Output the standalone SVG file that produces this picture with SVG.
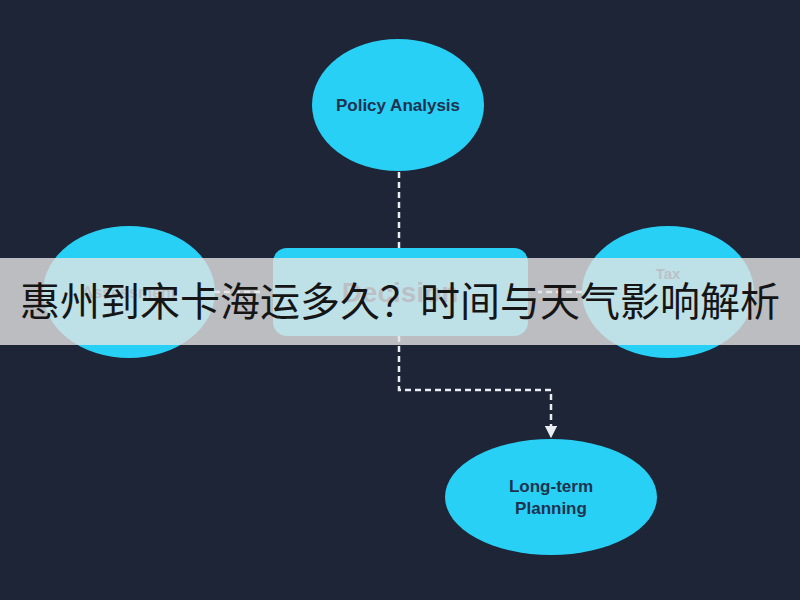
<svg xmlns="http://www.w3.org/2000/svg" width="800" height="600" viewBox="0 0 800 600">
<style>
.n{fill:#29d0f5}
.t{font-family:"Liberation Sans",Arial,sans-serif;font-weight:bold;fill:#1d3350;text-anchor:middle}
.c{stroke:#e8eef2;stroke-width:2.5;stroke-dasharray:6 4;fill:none}
</style>
<defs><marker id="a" viewBox="0 0 10 10" refX="5" refY="5" markerWidth="5" markerHeight="5" orient="auto"><path d="M0,0L10,5L0,10z" fill="#e8eef2"/></marker></defs>
<rect width="800" height="600" fill="#1d2537"/>
<g id="connectors">
<path class="c" d="M399,172V248"/>
<path class="c" d="M399,336V390H551V432" marker-end="url(#a)"/>
<path class="c" d="M214,292H262"/>
<path class="c" d="M582,292H538"/>
</g>
<g id="policy"><ellipse class="n" cx="398" cy="105" rx="86" ry="66"/><text class="t" x="398" y="111" font-size="17">Policy Analysis</text></g>
<g id="risk"><ellipse class="n" cx="129" cy="292" rx="86" ry="66"/><text class="t" x="129" y="298" font-size="16">Assessment</text></g>
<g id="decision"><rect class="n" x="273" y="248" width="255" height="88" rx="14"/><text class="t" x="400" y="302" font-size="28">Decision</text></g>
<g id="tax"><ellipse class="n" cx="668" cy="292" rx="86" ry="66"/><text class="t" x="668" y="279" font-size="15">Tax</text></g>
<g id="longterm"><ellipse class="n" cx="551" cy="497" rx="106" ry="58"/><text class="t" x="551" y="492" font-size="17">Long-term</text><text class="t" x="551" y="514" font-size="17">Planning</text></g>
<g id="banner"><rect x="0" y="258" width="800" height="87" fill="#e4e4e4" opacity="0.8"/><text x="400" y="316" font-size="40" text-anchor="middle" fill="#151515" font-family="'Noto Sans CJK SC',sans-serif">惠州到宋卡海运多久？时间与天气影响解析</text></g>
</svg>
